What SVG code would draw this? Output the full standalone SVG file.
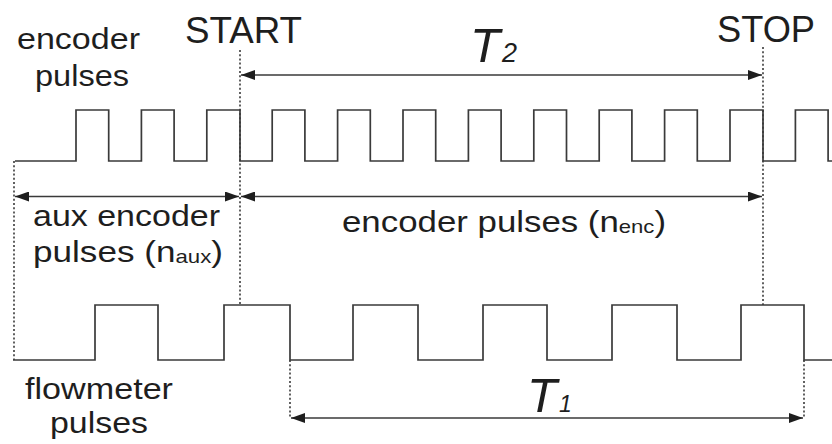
<svg xmlns="http://www.w3.org/2000/svg" width="832" height="444" viewBox="0 0 832 444">
<style>
  .wave{fill:none;stroke:#3a3a3a;stroke-width:1.7}
  .dot{fill:none;stroke:#3a3a3a;stroke-width:1.6;stroke-dasharray:2 2.2}
  .arr{fill:none;stroke:#3a3a3a;stroke-width:1.6;marker-start:url(#ah);marker-end:url(#ah)}
  .lbl{font-family:"Liberation Sans",Arial,sans-serif;font-size:30px;fill:#1e1e1e}
  .big{font-family:"Liberation Sans",Arial,sans-serif;font-size:36px;fill:#1e1e1e}
  .tl{font-family:"Liberation Sans",Arial,sans-serif;font-size:49px;font-style:italic;fill:#1e1e1e}
  .sub{font-size:19px}
</style>
<defs>
  <marker id="ah" viewBox="0 0 14 10" refX="14" refY="5" markerWidth="14" markerHeight="10" markerUnits="userSpaceOnUse" orient="auto-start-reverse">
    <path d="M0,0 L14,5 L0,10 Z" fill="#1e1e1e"/>
  </marker>
</defs>

<g id="encoder-wave">
  <path class="wave" d="M15 161 H76 V110 H108.7 V161 H141.4 V110 H174.1 V161 H206.8 V110 H240 V161 H272.2 V110 H304.9 V161 H337.6 V110 H370.3 V161 H403 V110 H435.7 V161 H468.4 V110 H501.1 V161 H533.8 V110 H566.5 V161 H599.2 V110 H631.9 V161 H664.6 V110 H697.3 V161 H730 V110 H763 V161 H795.4 V110 H828.1 V161 H832"/>
</g>
<g id="flowmeter-wave">
  <path class="wave" d="M13 360 H95 V305 H158 V360 H224 V305 H290 V360 H353 V305 H418 V360 H483 V305 H547 V360 H612 V305 H677 V360 H741 V305 H804 V360 H832"/>
</g>

<g id="connectors">
  <line class="dot" x1="240" y1="50" x2="240" y2="305"/>
  <line class="dot" x1="763" y1="47" x2="763" y2="305"/>
  <line class="dot" x1="14" y1="161" x2="14" y2="360"/>
  <line class="dot" x1="290" y1="360" x2="290" y2="418"/>
  <line class="dot" x1="804" y1="360" x2="804" y2="418"/>
  <line class="arr" x1="241" y1="75" x2="762" y2="75"/>
  <line class="arr" x1="241" y1="196.5" x2="762" y2="196.5"/>
  <line class="arr" x1="15" y1="196.5" x2="239" y2="196.5"/>
  <line class="arr" x1="291" y1="418" x2="803" y2="418"/>
</g>

<g id="label-encoder">
  <text class="lbl" x="17" y="49" textLength="123" lengthAdjust="spacingAndGlyphs">encoder</text>
  <text class="lbl" x="35" y="86" textLength="94" lengthAdjust="spacingAndGlyphs">pulses</text>
</g>
<g id="label-start"><text class="big" x="185" y="43" textLength="117" lengthAdjust="spacingAndGlyphs">START</text></g>
<g id="label-stop"><text class="big" x="717" y="42" textLength="98" lengthAdjust="spacingAndGlyphs">STOP</text></g>
<g id="label-t2">
  <text class="tl" x="470" y="62">T<tspan font-size="27" dx="2">2</tspan></text>
</g>
<g id="label-aux">
  <text class="lbl" x="33" y="226" textLength="187" lengthAdjust="spacingAndGlyphs">aux encoder</text>
  <text class="lbl" x="33" y="262" textLength="190" lengthAdjust="spacingAndGlyphs">pulses (n<tspan class="sub" dy="1">aux</tspan><tspan dy="-1">)</tspan></text>
</g>
<g id="label-enc"><text class="lbl" x="342" y="232" textLength="324" lengthAdjust="spacingAndGlyphs">encoder pulses (n<tspan class="sub" dy="1">enc</tspan><tspan dy="-1">)</tspan></text></g>
<g id="label-flowmeter">
  <text class="lbl" x="25" y="399" textLength="148" lengthAdjust="spacingAndGlyphs">flowmeter</text>
  <text class="lbl" x="50" y="433" textLength="98" lengthAdjust="spacingAndGlyphs">pulses</text>
</g>
<g id="label-t1">
  <text class="tl" x="527" y="412">T<tspan font-size="23" dx="2">1</tspan></text>
</g>
</svg>
